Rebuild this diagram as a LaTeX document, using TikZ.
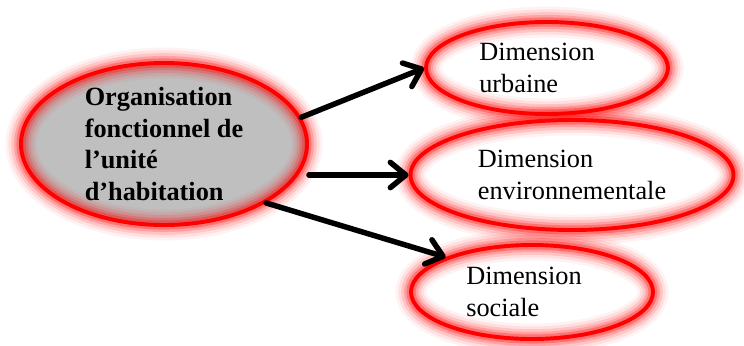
\documentclass[tikz,border=0pt]{standalone}
\usepackage{fontspec}
\setmainfont{Liberation Serif}
\usetikzlibrary{arrows.meta,shapes.geometric}

\begin{document}
\begin{tikzpicture}[
    font=\fontsize{18.7}{22.7}\selectfont,
    halo/.style      ={preaction={fill=#1},
                       preaction={draw=red, draw opacity=0.05, line width=22pt},
                       preaction={draw=red, draw opacity=0.08, line width=18pt},
                       preaction={draw=red, draw opacity=0.12, line width=14pt},
                       preaction={draw=red, draw opacity=0.18, line width=10pt},
                       preaction={draw=red, draw opacity=0.28, line width=6.5pt},
                       draw=red, line width=2.8pt},
    centre/.style    ={ellipse, halo=black!25, align=left, inner sep=0pt,
                       font=\fontsize{18.7}{22.7}\selectfont\bfseries},
    dimension/.style ={ellipse, halo=white, align=left, inner sep=0pt},
    fl/.style        ={-{Straight Barb[length=11pt,width=18pt,round]}, line width=3.9pt,
                       line cap=round}
  ]
  \useasboundingbox (0,0) rectangle (18.6,-8.625);

  % --- ellipses ------------------------------------------------------------
  \node[centre, minimum width=7.15cm, minimum height=4.05cm] (org) at (4.1,-3.6)
    {Organisation\\ fonctionnel de\\ l’unité\\ d’habitation};
  \node[dimension, minimum width=6.05cm, minimum height=2.3cm] (urb) at (13.675,-1.7)
    {Dimension\hspace*{0.5cm}\\ urbaine};
  \node[dimension, minimum width=8.075cm, minimum height=2.75cm] (env) at (14.3,-4.375)
    {Dimension\\ environnementale};
  \node[dimension, minimum width=6.05cm, minimum height=2.35cm] (soc) at (13.3,-7.3)
    {Dimension\hspace*{0.4cm}\\ sociale};

  % --- fleches -------------------------------------------------------------
  \draw[fl] (org.11) -- (urb.west);
  \draw[fl] (org.east |- env.west) -- (env.west);
  \draw[fl] (org.-30) -- (soc.158);

\end{tikzpicture}
\end{document}
